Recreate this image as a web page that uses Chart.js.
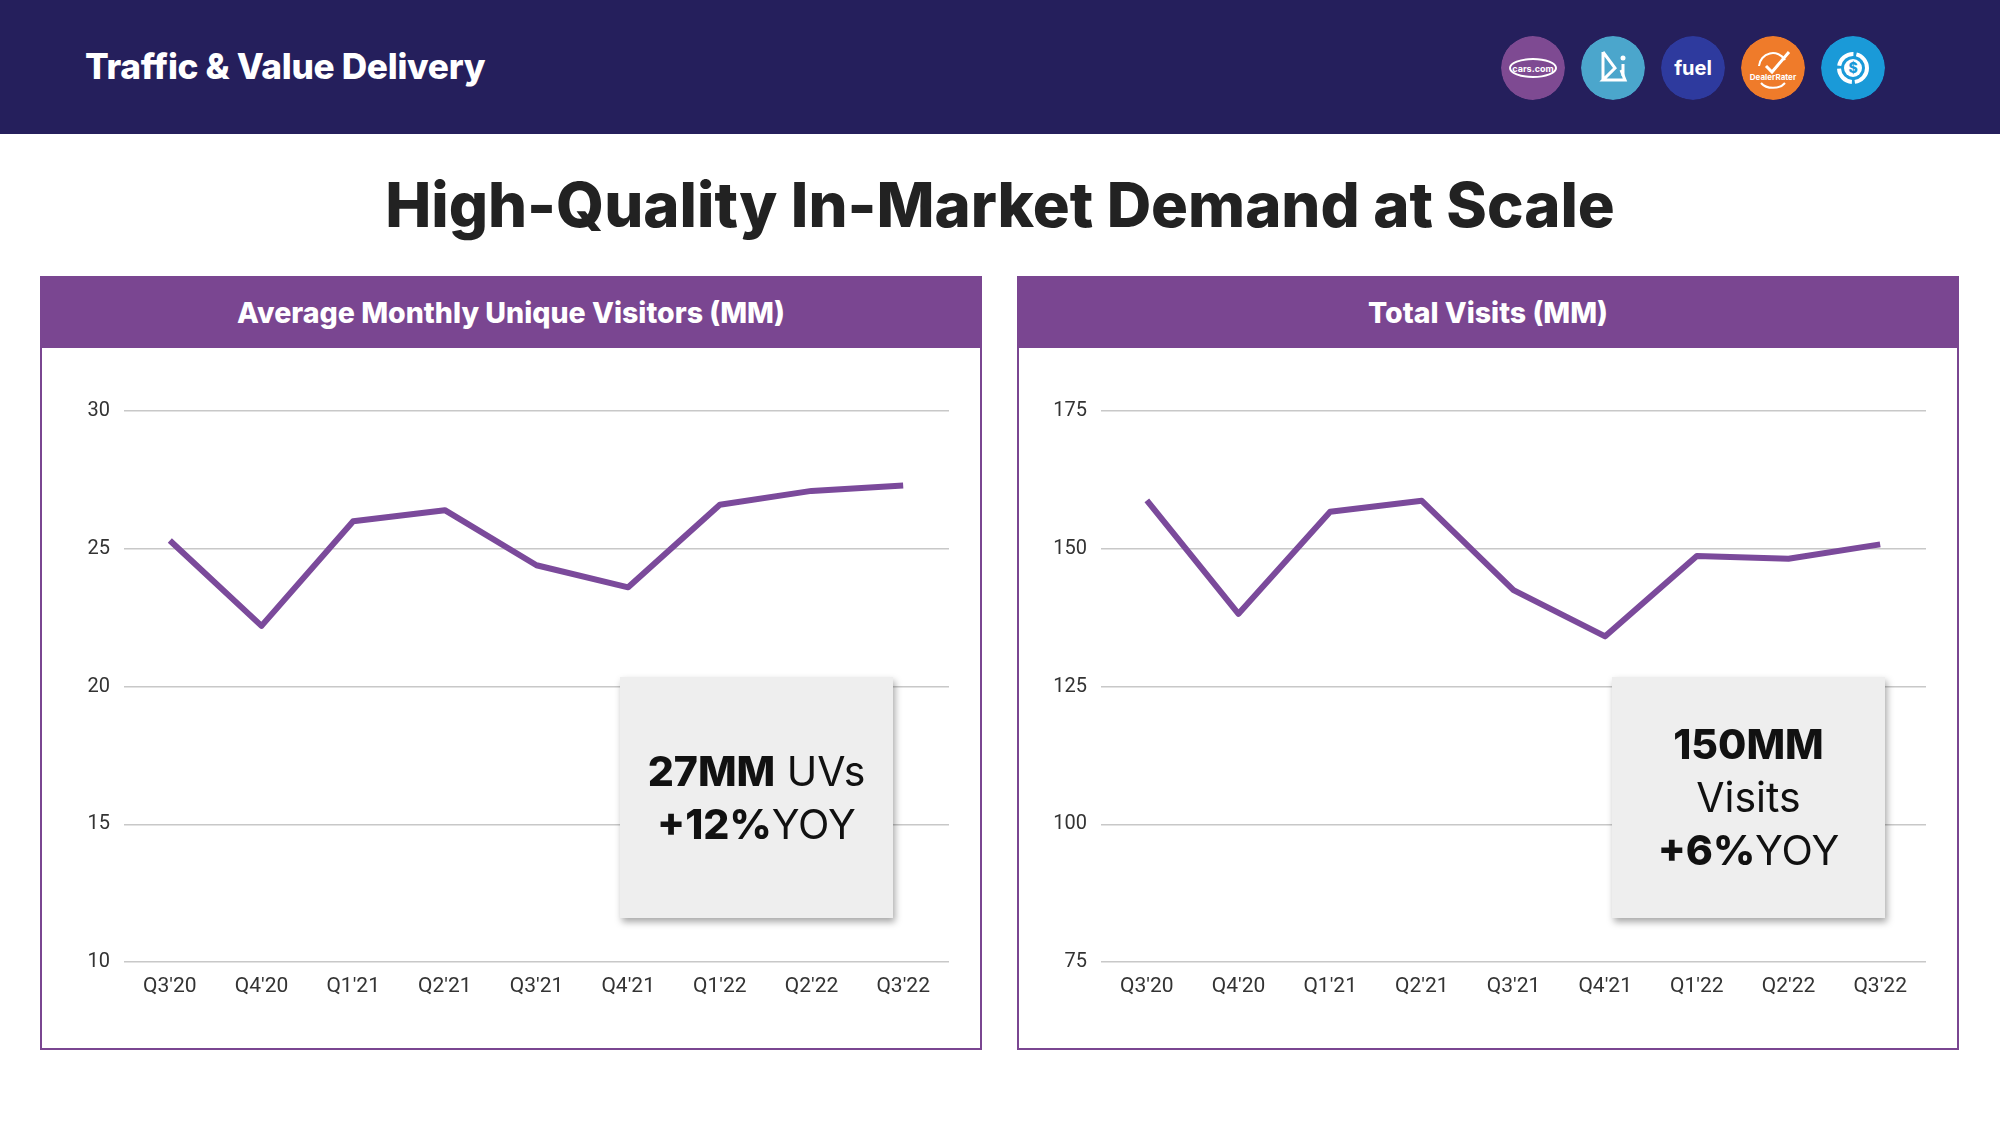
<!DOCTYPE html>
<html>
<head>
<meta charset="utf-8">
<script src="https://cdn.jsdelivr.net/npm/chart.js@4.4.0/dist/chart.umd.min.js"></script>
<style>
  html,body{margin:0;padding:0;background:#fff;}
  body{width:2000px;height:1125px;position:relative;overflow:hidden;font-family:Inter,"Noto Sans",sans-serif;}
  #topbar{position:absolute;left:0;top:0;width:2000px;height:134px;background:#251F5C;}
  #toptitle{position:absolute;left:85px;top:66px;transform:translateY(-50%);color:#fff;font-weight:800;font-size:34px;white-space:nowrap;letter-spacing:-0.3px;}
  .logo{position:absolute;top:36px;width:64px;height:64px;border-radius:50%;}
  #maintitle{position:absolute;left:0;width:2000px;top:204px;transform:translateY(-50%);text-align:center;color:#222;font-weight:800;font-size:62px;white-space:nowrap;}
  #maintitle span{display:inline-block;}
  .panel{position:absolute;top:276px;width:942px;height:774px;border:2px solid #7A4691;box-sizing:border-box;background:#fff;}
  .phead{position:absolute;left:-2px;top:-2px;width:942px;height:72px;background:#7A4691;color:#fff;font-weight:800;font-size:27px;display:flex;align-items:center;justify-content:center;white-space:nowrap;}
  canvas{position:absolute;}
  .box{position:absolute;top:677px;width:273px;height:241px;background:#EEEEEE;box-shadow:2px 4px 7px rgba(0,0,0,0.35);display:flex;flex-direction:column;align-items:center;justify-content:center;color:#111;font-size:41px;line-height:53px;white-space:nowrap;}
  .box b{font-weight:800;}
</style>
</head>
<body>
<div id="topbar"></div>
<div id="toptitle" data-w="400">Traffic &amp; Value Delivery</div>

<svg class="logo" style="left:1501px" viewBox="0 0 64 64"><circle cx="32" cy="32" r="32" fill="#7E4A92"/><ellipse cx="32" cy="32" rx="23" ry="9" fill="none" stroke="#fff" stroke-width="2"/><text x="32" y="35.5" fill="#fff" font-size="9" font-weight="700" text-anchor="middle" font-family="Inter">cars.com</text></svg>
<svg class="logo" style="left:1581px" viewBox="0 0 64 64"><circle cx="32" cy="32" r="32" fill="#4BA6CC"/><path d="M22 16 L22 44 M22 16 L34 32 L22 44 L44 44 L40 34" fill="none" stroke="#fff" stroke-width="3"/><circle cx="42" cy="22" r="2.5" fill="#fff"/><path d="M42 28 L42 40" stroke="#fff" stroke-width="3"/></svg>
<svg class="logo" style="left:1661px" viewBox="0 0 64 64"><circle cx="32" cy="32" r="32" fill="#2E3A9E"/><text x="32" y="39" fill="#fff" font-size="20" font-weight="700" text-anchor="middle" font-family="Inter">fuel</text></svg>
<svg class="logo" style="left:1741px" viewBox="0 0 64 64"><circle cx="32" cy="32" r="32" fill="#EF7B2A"/><path d="M18 30 A14 14 0 0 1 44 24" fill="none" stroke="#fff" stroke-width="2"/><path d="M25 30 L31 36 L48 16" fill="none" stroke="#fff" stroke-width="3"/><text x="32" y="44" fill="#fff" font-size="8" font-weight="700" text-anchor="middle" font-family="Inter">DealerRater</text><path d="M20 47 A14 10 0 0 0 44 47" fill="none" stroke="#fff" stroke-width="2"/></svg>
<svg class="logo" style="left:1821px" viewBox="0 0 64 64"><circle cx="32" cy="32" r="32" fill="#1A9AD8"/><circle cx="32" cy="32" r="14" fill="none" stroke="#fff" stroke-width="4" stroke-dasharray="20 3"/><circle cx="32" cy="32" r="9" fill="#fff"/><text x="32" y="37" fill="#1A9AD8" font-size="14" font-weight="800" text-anchor="middle" font-family="Inter">$</text></svg>

<div id="maintitle"><span data-w="1230">High-Quality In-Market Demand at Scale</span></div>

<div class="panel" style="left:40px"><div class="phead"><span data-w="548">Average Monthly Unique Visitors (MM)</span></div></div>
<div class="panel" style="left:1017px"><div class="phead"><span data-w="240">Total Visits (MM)</span></div></div>

<canvas id="c1" width="938" height="702" style="left:42px;top:346px"></canvas>
<canvas id="c2" width="938" height="702" style="left:1019px;top:346px"></canvas>

<div class="box" style="left:620px"><div><b>27MM</b> UVs</div><div><b>+12%</b>YOY</div></div>
<div class="box" style="left:1612px"><div><b>150MM</b></div><div>Visits</div><div><b>+6%</b>YOY</div></div>

<script>
// ---- data ----
const quarters = ["Q3'20","Q4'20","Q1'21","Q2'21","Q3'21","Q4'21","Q1'22","Q2'22","Q3'22"];
const uniqueVisitors = [25.3, 22.2, 26.0, 26.4, 24.4, 23.6, 26.6, 27.1, 27.3];
const totalVisits = [158.8, 138.2, 156.7, 158.7, 142.5, 134.1, 148.7, 148.2, 150.8];
const uvTicks = [10, 15, 20, 25, 30];
const visitTicks = [75, 100, 125, 150, 175];

// fit texts to target widths
document.querySelectorAll('[data-w]').forEach(el => {
  const target = +el.dataset.w;
  const cs = parseFloat(getComputedStyle(el).fontSize);
  el.style.display = el.id === 'toptitle' ? 'block' : 'inline-block';
  const w = el.getBoundingClientRect().width;
  if (w > 0) el.style.fontSize = (cs * target / w).toFixed(2) + 'px';
});

function makeChart(id, values, ticks) {
  const step = ticks[1] - ticks[0];
  new Chart(document.getElementById(id), {
    type: 'line',
    data: { labels: quarters, datasets: [{ data: values, borderColor: '#7B4A9B', borderWidth: 6, pointRadius: 0, tension: 0, fill: false, borderJoinStyle: 'round', borderCapStyle: 'butt' }] },
    options: {
      responsive: false, animation: false,
      layout: { padding: { top: 65, right: 31, left: 0, bottom: 0 } },
      plugins: { legend: { display: false }, tooltip: { enabled: false } },
      scales: {
        x: {
          offset: true,
          grid: { display: false, drawTicks: false },
          border: { display: false },
          ticks: { color: '#333', font: { family: 'Roboto', size: 21 }, padding: 12, maxRotation: 0, autoSkip: false },
          afterFit: s => { s.height = 86; }
        },
        y: {
          min: ticks[0], max: ticks[ticks.length - 1],
          afterBuildTicks: s => { s.ticks = ticks.map(v => ({ value: v })); },
          grid: { color: '#C8C8C8', lineWidth: 1.5, drawTicks: false },
          border: { display: false },
          ticks: { color: '#333', font: { family: 'Roboto', size: 20 }, padding: 14, stepSize: step },
          afterFit: s => { s.width = 82; }
        }
      }
    }
  });
}
makeChart('c1', uniqueVisitors, uvTicks);
makeChart('c2', totalVisits, visitTicks);
</script>
</body>
</html>
